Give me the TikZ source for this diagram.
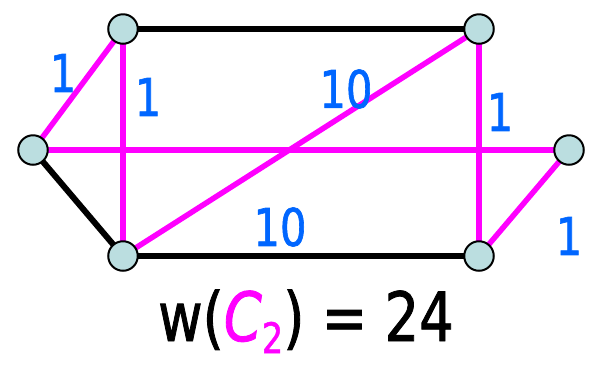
\documentclass[tikz,border=0pt]{standalone}
\usepackage{fontspec}
\newfontfamily\lblfont[FakeStretch=0.8,FakeBold=1.2]{DejaVu Sans}
\definecolor{mag}{RGB}{255,0,255}
\definecolor{wblue}{RGB}{0,102,255}
\definecolor{vfill}{RGB}{187,222,224}
\pgfdeclarelayer{bg}
\pgfsetlayers{bg,main}
\begin{document}
\begin{tikzpicture}[x=1pt,y=-1pt,
  vtx/.style={circle,draw=black,line width=2pt,fill=vfill,minimum size=29.5pt,inner sep=0pt},
  blk/.style={line width=6pt,draw=black},
  mg/.style={line width=5.5pt,draw=mag},
  wt/.style={text=wblue,font=\lblfont\fontsize{52}{52}\selectfont,inner sep=0pt}]
\useasboundingbox (0,0) rectangle (596,368);
\node[vtx] (tl) at (123,29) {};
\node[vtx] (tr) at (479,29) {};
\node[vtx] (l) at (33,150) {};
\node[vtx] (r) at (569,150) {};
\node[vtx] (bl) at (123,256) {};
\node[vtx] (br) at (479,256) {};
\begin{pgfonlayer}{bg}
\draw[blk] (tl.center) -- (tr.center);
\draw[blk] (bl.center) -- (br.center);
\draw[blk] (l.center) -- (bl.center);
\draw[mg] (l.center) -- (tl.center);
\draw[mg] (tl.center) -- (bl.center);
\draw[mg] (l.center) -- (r.center);
\draw[mg] (bl.center) -- (tr.center);
\draw[mg] (tr.center) -- (br.center);
\draw[mg] (br.center) -- (r.center);
\end{pgfonlayer}
\node[wt] (w1) at (63,73) {1};
\node[wt] (w2) at (148,97) {1};
\node[wt] (w3) at (346,89) {10};
\node[wt] (w4) at (500,112) {1};
\node[wt] (w5) at (280,227) {10};
\node[wt] (w6) at (569,236) {1};
\node[anchor=base,inner sep=0pt,font=\lblfont\fontsize{68}{68}\selectfont] (cap) at (306,341)
  {w(\textcolor{mag}{\textit{C}\raisebox{-12pt}{\fontsize{42}{42}\selectfont 2}}) = 24};
\end{tikzpicture}
\end{document}
